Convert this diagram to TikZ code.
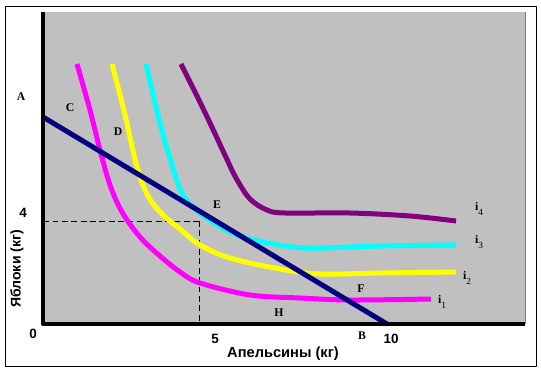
\documentclass[tikz,border=0pt]{standalone}
\usepackage{fontspec}
\setmainfont{Liberation Serif}
\newfontfamily\arialbold[Scale=1]{Liberation Sans}
\usetikzlibrary{positioning}

\definecolor{plotgray}{RGB}{192,192,192}
\definecolor{budget}{RGB}{0,0,128}
\definecolor{icmag}{RGB}{255,0,255}
\definecolor{icyel}{RGB}{255,255,0}
\definecolor{iccyan}{RGB}{0,255,255}
\definecolor{icpurple}{RGB}{128,0,128}

\begin{document}
\begin{tikzpicture}[
    x=0.03cm,
    y=-0.03cm,
    line join=round
]

\tikzstyle{curve}=[
    line width=0.15cm,
    smooth,
    tension=0.55
]
\tikzstyle{pt}=[
    inner sep=0pt,
    font=\fontsize{10}{12}\selectfont\bfseries
]
\tikzstyle{num}=[
    inner sep=0pt,
    font=\arialbold\fontsize{11.5}{13}\selectfont\bfseries
]
\tikzstyle{ilabel}=[
    inner sep=0pt,
    anchor=west,
    font=\fontsize{10}{12}\selectfont
]
\tikzstyle{guide}=[
    line width=0.5pt,
    dash pattern=on 5pt off 3pt
]

\useasboundingbox (0,0) rectangle (541,373);
\fill[white] (0,0) rectangle (541,373);
\draw[line width=0.8pt] (5,6) rectangle (536,366);

% plot area
\fill[plotgray] (42,12) rectangle (525,324);
\draw[line width=0.4pt, gray] (525,12) -- (525,324);

\coordinate (o) at (43,324);
\coordinate (ytop) at (43,12);
\coordinate (xend) at (525,324);

% budget line
\coordinate (ya) at (43,117);
\coordinate (xb) at (387,324);

% tangency point
\coordinate (e) at (199,221);

\draw[guide] (e) -- (e -| ytop);
\draw[guide] (e) -- (e |- o);

% indifference curves
\draw[curve, icmag] plot coordinates {(77,64) (90,110) (100,150) (110,185)
    (122,212) (140,237) (160,256) (180,272) (200,283) (250,295) (300,298)
    (350,300) (431,299)};
\draw[curve, icyel] plot coordinates {(112,64) (125,115) (137,167) (148,196)
    (162,214) (180,229) (200,245) (230,258) (280,269) (320,274) (380,273)
    (456,272)};
\draw[curve, iccyan] plot coordinates {(146,64) (160,123) (172,165) (183,195)
    (200,213) (230,232) (263,242) (307,248) (380,246) (456,245)};
\draw[curve, icpurple] plot coordinates {(181,64) (196,94) (210,123) (224,153)
    (236,178) (250,199) (267,210) (285,213) (350,213) (410,216) (456,221)};

\draw[budget, line width=0.15cm] (ya) -- (xb);

% axes
\draw[line width=0.12cm] (ytop) -- (o) -- (xend);

% labels
\node[pt] (A) at (21,97) {A};
\node[pt] (C) at (70,108) {C};
\node[pt] (D) at (118,132) {D};
\node[pt] (E) at (217,205) {E};
\node[pt] (F) at (361,289) {F};
\node[pt] (H) at (279,313) {H};
\node[pt] (B) at (362,336) {B};

\node[ilabel] (i1) at (438,302) {\textbf{i}\raisebox{-0.8ex}{\footnotesize 1}};
\node[ilabel] (i2) at (463,278) {\textbf{i}\raisebox{-0.8ex}{\footnotesize 2}};
\node[ilabel] (i3) at (475,242) {\textbf{i}\raisebox{-0.8ex}{\footnotesize 3}};
\node[ilabel] (i4) at (475,209) {\textbf{i}\raisebox{-0.8ex}{\footnotesize 4}};

\node[num] (n0) at (33,334) {0};
\node[num] (n4) at (23,213) {4};
\node[num] (n5) at (215,339) {5};
\node[num] (n10) at (391,339) {10};

\node[num, font=\arialbold\fontsize{12.5}{14}\selectfont\bfseries] (xlab) at (283,354) {Апельсины (кг)};
\node[num, rotate=90, font=\arialbold\fontsize{12}{14}\selectfont\bfseries] (ylab) at (17,269) {Яблоки (кг)};

\end{tikzpicture}
\end{document}
